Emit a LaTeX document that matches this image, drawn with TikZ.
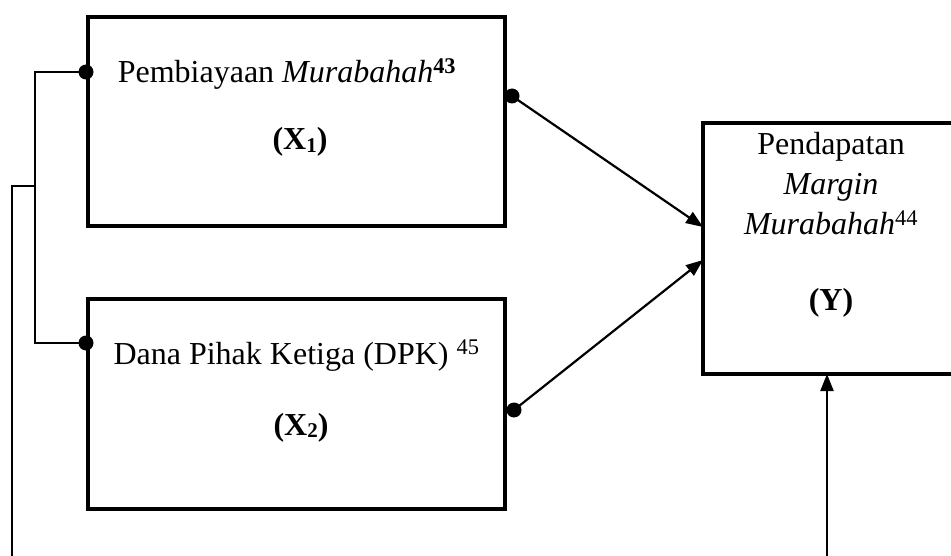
\documentclass[tikz,border=0pt]{standalone}
\usepackage{fontspec}
\setmainfont{Liberation Serif}
\usetikzlibrary{arrows.meta}
\newcommand{\mysub}[1]{{\fontsize{21pt}{21pt}\selectfont\raisebox{-2.5pt}{#1}}}
\begin{document}
\begin{tikzpicture}[x=1pt,y=-1pt,
  box/.style={draw, line width=3.6pt, inner sep=0pt, outer sep=0pt},
  lbl/.style={anchor=base, inner sep=0pt, font=\fontsize{32pt}{40pt}\selectfont},
  conn/.style={line width=1.9pt},
  arr/.style={line width=2.2pt, -{Triangle[length=17pt,width=13pt]}},
  dot/.style={circle, fill=black, inner sep=0pt, minimum size=15pt}]
\useasboundingbox (0,0) rectangle (951,556);
\clip (0,0) rectangle (951,556);
% boxes
\node[box, minimum width=417pt, minimum height=209pt] (X1) at (296.5,121.5) {};
\node[box, minimum width=417pt, minimum height=210pt] (X2) at (296.5,404) {};
\node[box, minimum width=257pt, minimum height=251pt] (Y) at (831.5,248.5) {};
% texts
\node[lbl] (t1) at (287,83) {Pembiayaan \textit{Murabahah}\textsuperscript{\textbf{43}}};
\node[lbl] (s1) at (300,150) {\textbf{(X\mysub{1})}};
\node[lbl] (t2) at (296.5,364) {Dana Pihak Ketiga (DPK) \textsuperscript{45}};
\node[lbl] (s2) at (301,435) {\textbf{(X\mysub{2})}};
\node[lbl] (y1) at (831,155) {Pendapatan};
\node[lbl] (y2) at (831,195) {\textit{Margin}};
\node[lbl] (y3) at (831,235) {\textit{Murabahah}\textsuperscript{44}};
\node[lbl] (y4) at (831,310) {\textbf{(Y)}};
% dots
\node[dot] (d1) at (86,72) {};
\node[dot] (d2) at (86,343) {};
\node[dot] (d3) at (512,96) {};
\node[dot] (d4) at (514,410) {};
% bracket
\coordinate (b1) at (35,72);
\coordinate (b2) at (35,343);
\coordinate (j) at (35,186);
\coordinate (o) at (12,186);
\coordinate (oe) at (12,560);
\draw[conn] (d1.center) -- (b1) -- (b2) -- (d2.center);
\draw[conn] (j) -- (o) -- (oe);
% arrows
\draw[arr] (d3.center) -- ([yshift=21.5pt]Y.west);
\draw[arr] (d4.center) -- ([yshift=-11.5pt]Y.west);
\coordinate (be) at (827,560);
\draw[arr] (be) -- (be |- Y.south);
\end{tikzpicture}
\end{document}
